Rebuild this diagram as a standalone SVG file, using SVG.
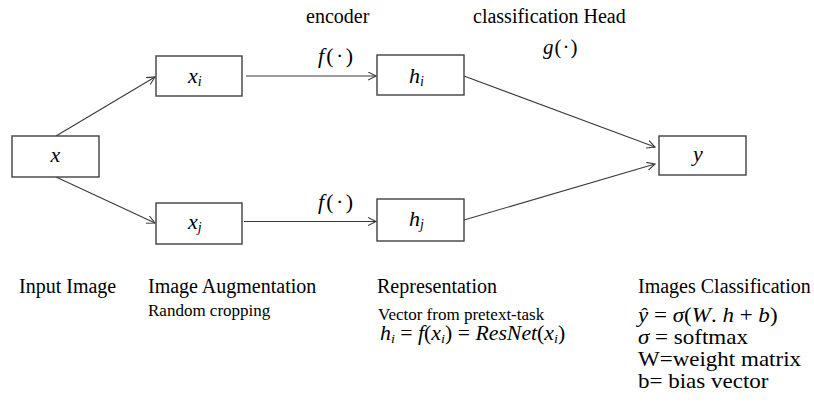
<svg xmlns="http://www.w3.org/2000/svg" width="814" height="409" viewBox="0 0 814 409" font-family="'Liberation Serif', 'Times New Roman', 'DejaVu Serif', serif">
<defs>
<style>
text{font-family:'Liberation Serif','Times New Roman','DejaVu Serif',serif;fill:#000}
.box{fill:#ffffff;stroke:#404040;stroke-width:1.4}
.edge{fill:none;stroke:#3a3a3a;stroke-width:1.1}
.m{font-style:italic}
.n{font-style:normal}
.h{font-size:20px}
.s{font-size:17px}
.fn{letter-spacing:2.5px}
</style>
<marker id="arr" markerUnits="userSpaceOnUse" markerWidth="10" markerHeight="10" refX="8" refY="4.5" orient="auto">
<path d="M0,0.5 L8,4.5 L0,8.5" fill="none" stroke="#3a3a3a" stroke-width="1.1"/>
</marker>
</defs>
<rect width="814" height="409" fill="#ffffff"/>

<g id="connectors">
<line class="edge" x1="56" y1="136" x2="155" y2="77" marker-end="url(#arr)"/>
<line class="edge" x1="56" y1="177" x2="155" y2="223" marker-end="url(#arr)"/>
<line class="edge" x1="246" y1="76" x2="376" y2="76" marker-end="url(#arr)"/>
<line class="edge" x1="244" y1="221.5" x2="376" y2="221.5" marker-end="url(#arr)"/>
<line class="edge" x1="464" y1="76" x2="655" y2="147" marker-end="url(#arr)"/>
<line class="edge" x1="464" y1="220" x2="655" y2="164" marker-end="url(#arr)"/>
<text class="m" x="318" y="63" font-size="22">f<tspan class="n fn" dx="2">(·)</tspan></text>
<text class="m" x="318" y="209" font-size="22">f<tspan class="n fn" dx="2">(·)</tspan></text>
</g>

<g id="node-x">
<rect class="box" x="12" y="136" width="87" height="41"/>
<text class="m" x="55.5" y="162" font-size="22" text-anchor="middle">x</text>
</g>
<g id="node-xi">
<rect class="box" x="156" y="56" width="86" height="40"/>
<text class="m" x="188" y="83" font-size="22">x<tspan font-size="14" dy="3">i</tspan></text>
</g>
<g id="node-xj">
<rect class="box" x="156" y="203" width="86" height="41"/>
<text class="m" x="188" y="229" font-size="22">x<tspan font-size="14" dy="3">j</tspan></text>
</g>
<g id="node-hi">
<rect class="box" x="377" y="55" width="87" height="40"/>
<text class="m" x="409" y="83" font-size="22">h<tspan font-size="14" dy="3">i</tspan></text>
</g>
<g id="node-hj">
<rect class="box" x="377" y="199" width="87" height="42"/>
<text class="m" x="409" y="226" font-size="22">h<tspan font-size="14" dy="3">j</tspan></text>
</g>
<g id="node-y">
<rect class="box" x="659" y="136" width="87" height="39"/>
<text class="m" x="698" y="161" font-size="22" text-anchor="middle">y</text>
</g>

<g id="labels">
<text class="h" x="306" y="23">encoder</text>
<text class="h" x="473" y="23">classification Head</text>
<text class="m" x="543" y="54" font-size="21">g<tspan class="n" letter-spacing="1" dx="1">(·)</tspan></text>

<text class="h" x="19" y="293">Input Image</text>
<text class="h" x="148" y="293">Image Augmentation</text>
<text class="s" x="148" y="316">Random cropping</text>
<text class="h" x="377" y="293">Representation</text>
<text class="s" x="378" y="320">Vector from pretext-task</text>
<text class="m" transform="translate(380,340) scale(1.09,1)" x="0" y="0" font-size="20">h<tspan font-size="13" dy="3">i</tspan><tspan class="n" dy="-3"> =  </tspan>f<tspan class="n">(</tspan>x<tspan font-size="13" dy="3">i</tspan><tspan class="n" dy="-3">) = </tspan>ResNet<tspan class="n">(</tspan>x<tspan font-size="13" dy="3">i</tspan><tspan class="n" dy="-3">)</tspan></text>

<text class="h" x="638" y="293">Images Classification</text>
<text class="m" transform="translate(638,322) scale(1.15,1)" x="0" y="0" font-size="20">ŷ<tspan class="n"> = </tspan>σ<tspan class="n">(</tspan>W<tspan class="n">. </tspan>h<tspan class="n"> + </tspan>b<tspan class="n">)</tspan></text>
<text class="h" transform="translate(638,344) scale(1.15,1)" x="0" y="0"><tspan class="m">σ</tspan> = softmax</text>
<text class="h" transform="translate(638,366) scale(1.15,1)" x="0" y="0">W=weight matrix</text>
<text class="h" transform="translate(638,388) scale(1.15,1)" x="0" y="0">b= bias vector</text>
</g>
</svg>
